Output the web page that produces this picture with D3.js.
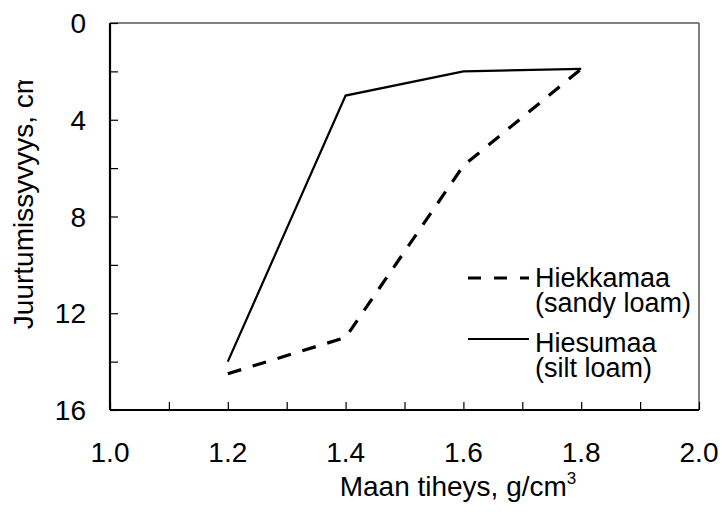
<!DOCTYPE html>
<html><head><meta charset="utf-8">
<script src="https://cdn.jsdelivr.net/npm/d3@7"></script>
<style>body{margin:0;background:#fff}svg{display:block}text{font-family:"Liberation Sans",Arial,sans-serif;fill:#000}</style>
</head><body>
<script>
const density = [1.2, 1.4, 1.6, 1.8];
const sandyLoam = [14.5, 13, 5.9, 1.9];
const siltLoam = [14, 3, 2, 1.9];
const xTicks = [1.0, 1.2, 1.4, 1.6, 1.8, 2.0];
const yTicks = [0, 4, 8, 12, 16];
const seriesNames = [["Hiekkamaa", "(sandy loam)"], ["Hiesumaa", "(silt loam)"]];

const W = 722, H = 524;
const m = {l: 110, r: 699, t: 23, b: 410};
const svg = d3.select("body").append("svg").attr("width", W).attr("height", H);

const x = d3.scaleLinear().domain([1.0, 2.0]).range([m.l, m.r]);
const y = d3.scaleLinear().domain([0, 16]).range([m.t, m.b]);

// frame top/right
svg.append("line").attr("x1", m.l).attr("x2", m.r).attr("y1", m.t).attr("y2", m.t).attr("stroke", "#555").attr("stroke-width", 1.5);
svg.append("line").attr("x1", m.r).attr("x2", m.r).attr("y1", m.t).attr("y2", m.b).attr("stroke", "#555").attr("stroke-width", 1.5);

// x axis
const xAxis = d3.axisBottom(x).tickValues(d3.range(1.0, 2.001, 0.1)).tickSize(-8).tickFormat("");
const gx = svg.append("g").attr("transform", `translate(0,${m.b})`).call(xAxis);
gx.select(".domain").attr("stroke", "#000").attr("stroke-width", 2.2).attr("d", `M${m.l},0H${m.r}`);
gx.selectAll(".tick line").attr("stroke", "#000").attr("stroke-width", 1.2);
svg.append("g").selectAll("text").data(xTicks).join("text")
  .attr("x", d => x(d)).attr("y", 462).attr("text-anchor", "middle")
  .attr("font-size", 28).text(d => d.toFixed(1));

// y axis
const yAxis = d3.axisLeft(y).tickValues(d3.range(0, 16.001, 2)).tickSize(-8).tickFormat("");
const gy = svg.append("g").attr("transform", `translate(${m.l},0)`).call(yAxis);
gy.select(".domain").attr("stroke", "#000").attr("stroke-width", 2.2).attr("d", `M0,${m.t}V${m.b}`);
gy.selectAll(".tick line").attr("stroke", "#000").attr("stroke-width", 1.2);
svg.append("g").selectAll("text").data(yTicks).join("text")
  .attr("x", 86).attr("y", d => y(d) + 10).attr("text-anchor", "end")
  .attr("font-size", 28).text(d => d);

// lines
const line = d3.line().x(d => x(d[0])).y(d => y(d[1]));
svg.append("path").datum(density.map((d, i) => [d, sandyLoam[i]]))
  .attr("d", line).attr("fill", "none").attr("stroke", "#000").attr("stroke-width", 3.2)
  .attr("stroke-dasharray", "14,12");
svg.append("path").datum(density.map((d, i) => [d, siltLoam[i]]))
  .attr("d", line).attr("fill", "none").attr("stroke", "#000").attr("stroke-width", 2.2);

// legend
const lg = svg.append("g");
lg.append("line").attr("x1", 468).attr("x2", 529).attr("y1", 278).attr("y2", 278)
  .attr("stroke", "#000").attr("stroke-width", 3.2).attr("stroke-dasharray", "13,13");
lg.append("line").attr("x1", 468).attr("x2", 529).attr("y1", 339).attr("y2", 339)
  .attr("stroke", "#000").attr("stroke-width", 2.2);
const baselines = [[287, 312], [352, 377]];
seriesNames.forEach((names, i) => {
  names.forEach((t, j) => {
    lg.append("text").attr("x", 535).attr("y", baselines[i][j]).attr("font-size", 27).text(t);
  });
});

// axis titles
const xt = svg.append("text").attr("x", 458).attr("y", 496).attr("text-anchor", "middle").attr("font-size", 28);
xt.append("tspan").text("Maan tiheys, g/cm");
xt.append("tspan").attr("dy", -12).attr("font-size", 17).text("3");

svg.append("clipPath").attr("id", "yclip").append("rect").attr("x", 0).attr("y", 80).attr("width", 60).attr("height", 400);
svg.append("g").attr("clip-path", "url(#yclip)")
  .append("text")
  .attr("transform", "translate(33,200) rotate(-90)").attr("text-anchor", "middle")
  .attr("font-size", 28).text("Juurtumissyvyys, cm");
</script>
</body></html>
